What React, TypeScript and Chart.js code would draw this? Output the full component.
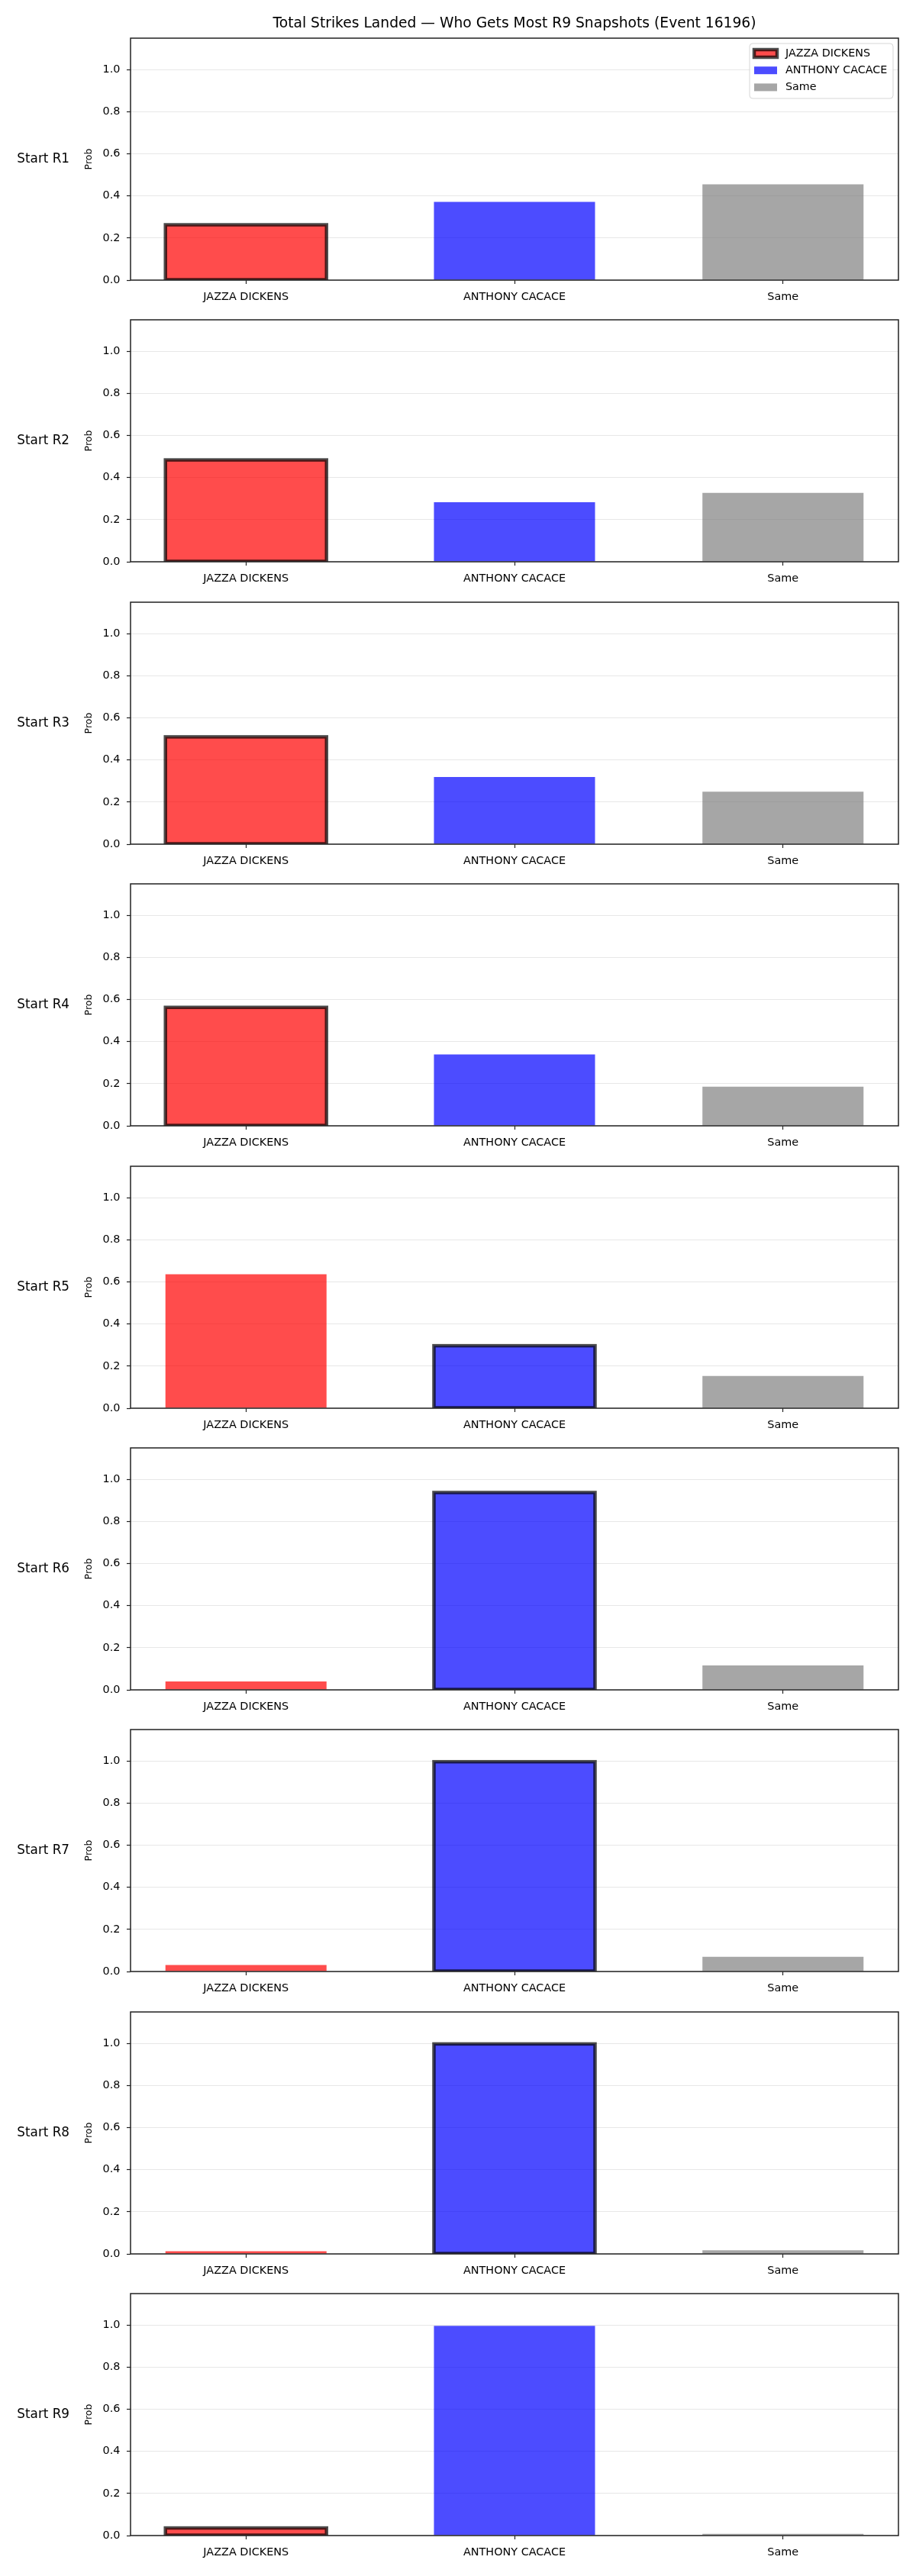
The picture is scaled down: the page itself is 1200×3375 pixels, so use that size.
import React, { useEffect, useRef } from 'react';
import { Chart, registerables } from 'chart.js';

Chart.register(...registerables);

// ---- data ----
const chartTitle = 'Total Strikes Landed — Who Gets Most R9 Snapshots (Event 16196)';
const categories = ['JAZZA DICKENS', 'ANTHONY CACACE', 'Same'];
const snapshotLabels = ['Start R1', 'Start R2', 'Start R3', 'Start R4', 'Start R5', 'Start R6', 'Start R7', 'Start R8', 'Start R9'];
const jazzaProb = [0.263, 0.484, 0.510, 0.563, 0.637, 0.040, 0.031, 0.013, 0.036];
const cacaceProb = [0.372, 0.283, 0.319, 0.339, 0.297, 0.938, 0.997, 0.998, 0.997];
const sameProb = [0.455, 0.327, 0.249, 0.186, 0.153, 0.116, 0.070, 0.017, 0.008];
// which category gets the dark outline in each snapshot (0 = Jazza, 1 = Cacace)
const outlinedCategory = [0, 0, 0, 0, 1, 1, 1, 1, 0];
const yTickValues = [0, 0.2, 0.4, 0.6, 0.8, 1.0];
const Y_MAX = 1.15;

// ---- styling ----
const FONT = "'DejaVu Sans', 'Liberation Sans', sans-serif";
const barColors = ['rgba(255,0,0,0.7)', 'rgba(0,0,255,0.7)', 'rgba(128,128,128,0.7)'];
const EDGE_COLOR = 'rgba(0,0,0,0.7)';
const EDGE_WIDTH = 4.5;
const SPINE_COLOR = '#222222';
const PANEL_PITCH = 369.4;
const CANVAS_W = 1200;
const CANVAS_H = 430;

Chart.defaults.font.family = FONT;

function roundRectPath(ctx: CanvasRenderingContext2D, x: number, y: number, w: number, h: number, r: number) {
  ctx.beginPath();
  ctx.moveTo(x + r, y);
  ctx.lineTo(x + w - r, y);
  ctx.arcTo(x + w, y, x + w, y + r, r);
  ctx.lineTo(x + w, y + h - r);
  ctx.arcTo(x + w, y + h, x + w - r, y + h, r);
  ctx.lineTo(x + r, y + h);
  ctx.arcTo(x, y + h, x, y + h - r, r);
  ctx.lineTo(x, y + r);
  ctx.arcTo(x, y, x + r, y, r);
  ctx.closePath();
}

// outline for the highlighted bar (edge centred on the bar outline, clipped to the axes)
const barOutline = {
  id: 'barOutline',
  afterDatasetsDraw(chart: any, _args: any, opts: any) {
    const { ctx, chartArea: a } = chart;
    const bar = chart.getDatasetMeta(0).data[opts.index];
    if (!bar) return;
    const { x, y, base, width } = bar.getProps(['x', 'y', 'base', 'width'], true);
    ctx.save();
    ctx.beginPath();
    ctx.rect(a.left, a.top, a.right - a.left, a.bottom - a.top);
    ctx.clip();
    ctx.lineWidth = EDGE_WIDTH;
    ctx.strokeStyle = EDGE_COLOR;
    ctx.lineJoin = 'miter';
    ctx.strokeRect(x - width / 2, y, width, base - y);
    ctx.restore();
  },
};

// axes frame, row caption and (first panel only) the legend box
const panelFrame = {
  id: 'panelFrame',
  afterDraw(chart: any, _args: any, opts: any) {
    const { ctx, chartArea: a } = chart;
    ctx.save();
    ctx.lineWidth = 1.5;
    ctx.strokeStyle = SPINE_COLOR;
    ctx.strokeRect(a.left, a.top, a.right - a.left, a.bottom - a.top);

    ctx.font = `16.8px ${FONT}`;
    ctx.fillStyle = '#000';
    ctx.textAlign = 'center';
    ctx.textBaseline = 'middle';
    ctx.fillText(opts.rowLabel, 56.7, (a.top + a.bottom) / 2);

    if (opts.showLegend) {
      roundRectPath(ctx, 982, 57, 188, 72, 4);
      ctx.fillStyle = 'rgba(255,255,255,0.8)';
      ctx.fill();
      ctx.lineWidth = 1;
      ctx.strokeStyle = 'rgba(204,204,204,0.8)';
      ctx.stroke();

      const rows = [70, 92.2, 114.4];
      categories.forEach((name, k) => {
        const cy = rows[k];
        ctx.fillStyle = barColors[k];
        ctx.fillRect(988, cy - 5, 30, 10);
        if (k === 0) {
          ctx.lineWidth = EDGE_WIDTH;
          ctx.strokeStyle = EDGE_COLOR;
          ctx.strokeRect(988, cy - 5, 30, 10);
        }
        ctx.fillStyle = '#000';
        ctx.font = `14.3px ${FONT}`;
        ctx.textAlign = 'left';
        ctx.textBaseline = 'middle';
        ctx.fillText(name, 1029, cy);
      });
    }
    ctx.restore();
  },
};

function buildConfig(i: number): any {
  const values = [jazzaProb[i], cacaceProb[i], sameProb[i]];
  const first = i === 0;
  return {
    type: 'bar',
    data: {
      datasets: [
        {
          label: snapshotLabels[i],
          data: values.map((v, k) => ({ x: k, y: v })),
          backgroundColor: barColors,
          borderWidth: 0,
          barPercentage: 0.6,
          categoryPercentage: 1,
        },
      ],
    },
    options: {
      responsive: false,
      animation: false,
      devicePixelRatio: 1,
      events: [],
      layout: { padding: { left: 0, right: 23, top: first ? 0 : 50, bottom: 0 } },
      plugins: {
        legend: { display: false },
        tooltip: { enabled: false },
        title: first
          ? {
              display: true,
              text: chartTitle,
              fullSize: false,
              color: '#000',
              font: { size: 18.7, weight: 'normal', family: FONT, lineHeight: 1.2 },
              padding: { top: 20.3, bottom: 7.26 },
            }
          : { display: false },
        barOutline: { index: outlinedCategory[i] },
        panelFrame: { rowLabel: snapshotLabels[i], showLegend: first },
      },
      scales: {
        x: {
          type: 'linear',
          min: -0.43,
          max: 2.43,
          offset: false,
          afterBuildTicks: (s: any) => {
            s.ticks = categories.map((_, k) => ({ value: k }));
          },
          afterFit: (s: any) => {
            s.height = 63;
          },
          ticks: {
            callback: (v: any) => categories[Math.round(Number(v))] ?? '',
            color: '#000',
            font: { size: 14.4, family: FONT },
            padding: 9,
            maxRotation: 0,
            minRotation: 0,
            autoSkip: false,
          },
          grid: {
            display: true,
            drawOnChartArea: false,
            offset: false,
            tickLength: 5,
            tickColor: SPINE_COLOR,
            tickWidth: 1.2,
          },
          border: { display: false },
        },
        y: {
          type: 'linear',
          min: 0,
          max: Y_MAX,
          z: 1,
          afterBuildTicks: (s: any) => {
            s.ticks = yTickValues.map((v) => ({ value: v }));
          },
          afterFit: (s: any) => {
            s.width = 171;
          },
          ticks: {
            callback: (v: any) => Number(v).toFixed(1),
            color: '#000',
            font: { size: 14.4, family: FONT },
            padding: 8.5,
          },
          grid: {
            color: 'rgba(176,176,176,0.3)',
            lineWidth: 1,
            tickLength: 5,
            tickColor: SPINE_COLOR,
            tickWidth: 1.2,
          },
          border: { display: false },
          title: {
            display: true,
            text: 'Prob',
            color: '#000',
            font: { size: 12.5, family: FONT, lineHeight: 1.2 },
            padding: { top: 109.5, bottom: 0 },
          },
        },
      },
    },
    plugins: [barOutline, panelFrame],
  };
}

function SnapshotPanel({ index }: { index: number }) {
  const ref = useRef<HTMLCanvasElement | null>(null);
  useEffect(() => {
    if (!ref.current) return;
    const chart = new Chart(ref.current, buildConfig(index));
    return () => chart.destroy();
  }, [index]);
  return (
    <canvas
      ref={ref}
      width={CANVAS_W}
      height={CANVAS_H}
      style={{
        position: 'absolute',
        left: 0,
        top: Math.round(index * PANEL_PITCH),
        width: CANVAS_W,
        height: CANVAS_H,
        display: 'block',
      }}
    />
  );
}

export default function App() {
  return (
    <div
      style={{
        position: 'absolute',
        left: 0,
        top: 0,
        width: 1200,
        height: 3375,
        background: '#ffffff',
        overflow: 'hidden',
      }}
    >
      {snapshotLabels.map((_, i) => (
        <SnapshotPanel key={i} index={i} />
      ))}
    </div>
  );
}
